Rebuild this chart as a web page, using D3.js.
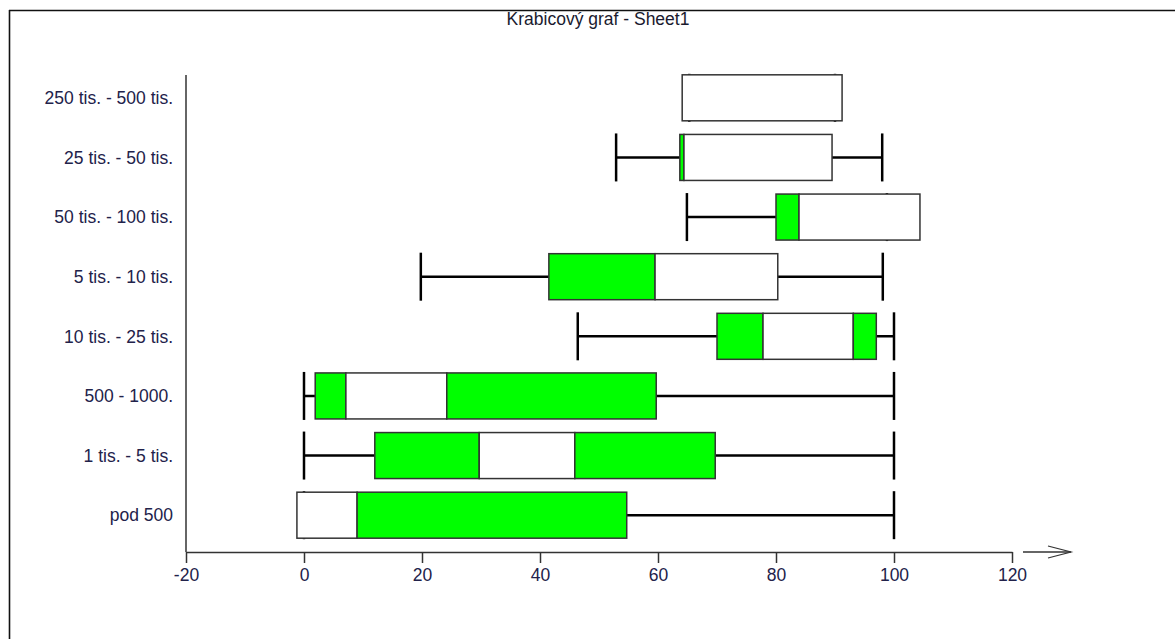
<!DOCTYPE html>
<html>
<head>
<meta charset="utf-8">
<script src="https://cdn.jsdelivr.net/npm/d3@7"></script>
<style>
  html, body { margin: 0; padding: 0; background: #fff; }
  svg { display: block; }
  text { font-family: Arial, "Liberation Sans", sans-serif; }
</style>
</head>
<body>
<svg id="chart" width="1175" height="639"></svg>
<script>
// Categories, top to bottom
const categories = [
  "250 tis. - 500 tis.",
  "25 tis. - 50 tis.",
  "50 tis. - 100 tis.",
  "5 tis. - 10 tis.",
  "10 tis. - 25 tis.",
  "500 - 1000.",
  "1 tis. - 5 tis.",
  "pod 500"
];
// Whisker ends per category
const whiskerMin = [65.3, 52.9, 64.9, 19.8, 46.4, 0, 0, 0];
const whiskerMax = [90.0, 98.0, 98.8, 98.1, 100, 100, 100, 100];
// Box boundaries per category (segments between consecutive values)
const boxEdges = [
  [64.1, 91.2],
  [63.7, 64.4, 89.5],
  [80.0, 83.9, 104.4],
  [41.5, 59.5, 80.3],
  [70.0, 77.8, 93.1, 97.0],
  [1.9, 7.1, 24.2, 59.7],
  [12.0, 29.7, 45.9, 69.7],
  [-1.2, 9.0, 54.7]
];
// Fill of the first segment in each box; segments alternate afterwards
const firstSegmentGreen = [false, true, true, true, true, true, true, false];
const xTicks = [-20, 0, 20, 40, 60, 80, 100, 120];
const title = "Krabicový graf - Sheet1";

const GREEN = "#00ff00";
const FONT = 17.5;
const svg = d3.select("#chart");

// frame
svg.append("line").attr("x1", 9).attr("x2", 1175).attr("y1", 10.5).attr("y2", 10.5)
  .attr("stroke", "#111").attr("stroke-width", 1.6);
svg.append("line").attr("x1", 9.5).attr("x2", 9.5).attr("y1", 10).attr("y2", 639)
  .attr("stroke", "#111").attr("stroke-width", 1.6);

// title
svg.append("text").attr("x", 598).attr("y", 25).attr("text-anchor", "middle")
  .attr("font-size", FONT).attr("fill", "#1a1a2e").text(title);

const x = d3.scaleLinear().domain([-20, 120]).range([186, 1012]);
const y = d3.scaleBand().domain(categories).range([68, 545]).paddingInner(0);
const boxH = 46, capH = 48;

// x axis
const xAxis = svg.append("g").attr("transform", "translate(0,552)")
  .call(d3.axisBottom(x).tickValues(xTicks).tickFormat(d => String(d))
    .tickSize(11).tickPadding(6).tickSizeOuter(0));
xAxis.select(".domain").attr("stroke", "#333").attr("stroke-width", 1.5);
xAxis.selectAll(".tick line").attr("stroke", "#333").attr("stroke-width", 1.5);
xAxis.selectAll(".tick text").attr("font-size", FONT).attr("fill", "#22224a")
  .attr("font-family", "Arial, 'Liberation Sans', sans-serif");

// arrow after the axis
svg.append("line").attr("x1", 1023).attr("x2", 1071).attr("y1", 552).attr("y2", 552)
  .attr("stroke", "#333").attr("stroke-width", 1.3);
svg.append("path").attr("d", "M1048,546 L1071,552 L1048,558")
  .attr("fill", "none").attr("stroke", "#333").attr("stroke-width", 1.2);

// y axis line
svg.append("line").attr("x1", 186).attr("x2", 186).attr("y1", 75).attr("y2", 552)
  .attr("stroke", "#333").attr("stroke-width", 1.5);

// category labels
svg.append("g").selectAll("text").data(categories).join("text")
  .attr("x", 173).attr("y", d => y(d) + y.bandwidth() / 2)
  .attr("dy", "0.36em").attr("text-anchor", "end")
  .attr("font-size", FONT).attr("fill", "#22224a").text(d => d);

// boxes
const rows = svg.append("g").selectAll("g").data(categories).join("g")
  .attr("transform", d => `translate(0,${y(d) + y.bandwidth() / 2})`);

rows.each(function (cat, i) {
  const g = d3.select(this);
  // whisker line and caps
  g.append("line").attr("x1", x(whiskerMin[i])).attr("x2", x(whiskerMax[i]))
    .attr("y1", 0).attr("y2", 0).attr("stroke", "#000").attr("stroke-width", 2.5);
  [whiskerMin[i], whiskerMax[i]].forEach(v => {
    g.append("line").attr("x1", x(v)).attr("x2", x(v))
      .attr("y1", -capH / 2).attr("y2", capH / 2)
      .attr("stroke", "#000").attr("stroke-width", 2.5);
  });
  // box segments
  const edges = boxEdges[i];
  const segs = d3.pairs(edges).map((p, k) => ({
    a: p[0], b: p[1],
    green: (k % 2 === 0) === firstSegmentGreen[i]
  }));
  g.selectAll("rect.seg").data(segs).join("rect").attr("class", "seg")
    .attr("x", s => x(s.a)).attr("width", s => x(s.b) - x(s.a))
    .attr("y", -boxH / 2).attr("height", boxH)
    .attr("fill", s => s.green ? GREEN : "#fff")
    .attr("stroke", "#333").attr("stroke-width", 1.5);
});
</script>
</body>
</html>
